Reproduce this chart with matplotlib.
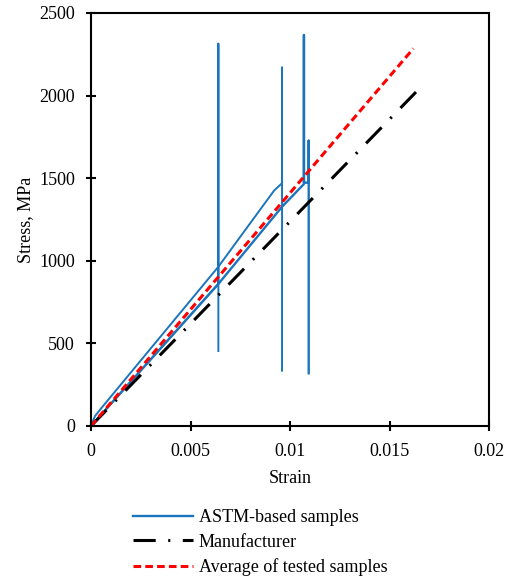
import matplotlib
matplotlib.use("Agg")
import matplotlib.pyplot as plt

plt.rcParams['font.family'] = ['Liberation Serif', 'DejaVu Serif']
plt.rcParams['lines.scale_dashes'] = False

# ---- data ----
sample1_strain = [0, 0.0002, 0.0006, 0.0064, 0.0092, 0.0096, 0.0096, 0.0096]
sample1_stress = [0, 60, 120, 964, 1425, 1470, 2170, 335]
sample2_strain = [0, 0.0064, 0.0096, 0.0107, 0.0107, 0.0107, 0.01094, 0.01094, 0.01094]
sample2_stress = [0, 860, 1327, 1465, 2367, 1473, 1473, 1727, 319]
sample3_strain = [0, 0.0064, 0.0064, 0.0064]
sample3_stress = [0, 860, 2314, 454]
manuf_strain = [0, 0.0164]
manuf_stress = [0, 2030]
avg_strain = [0, 0.0162]
avg_stress = [0, 2285]

xticks = [0, 0.005, 0.01, 0.015, 0.02]
xticklabels = ['0', '0.005', '0.01', '0.015', '0.02']
yticks = [0, 500, 1000, 1500, 2000, 2500]
yticklabels = ['0', '500', '1000', '1500', '2000', '2500']

blue = '#1B75BC'
fs = 13

fig = plt.figure(figsize=(5.14, 5.79), dpi=100)
ax = fig.add_axes([91/514, 1-426/579, 398/514, 413/579])

ax.plot(sample2_strain, sample2_stress, color=blue, lw=1.7, label='ASTM-based samples')
ax.plot(sample3_strain, sample3_stress, color=blue, lw=1.4)
ax.plot(sample1_strain, sample1_stress, color=blue, lw=1.4)
l_m, = ax.plot(manuf_strain, manuf_stress, color='black', lw=2.2, label='Manufacturer')
l_m.set_dashes([16, 9, 1.5, 9])
l_a, = ax.plot(avg_strain, avg_stress, color='#FF0000', lw=2.2, label='Average of tested samples')
l_a.set_dashes([5.5, 3])

ax.set_xlim(0, 0.02)
ax.set_ylim(0, 2500)
ax.set_xticks(xticks)
ax.set_xticklabels(xticklabels)
ax.set_yticks(yticks)
ax.set_yticklabels(yticklabels)
for s in ax.spines.values():
    s.set_linewidth(1.5)
ax.tick_params(direction='inout', length=7, width=1.5, labelsize=fs)
ax.tick_params(axis='y', pad=8)
ax.tick_params(axis='x', pad=9)
ax.set_xlabel('Strain', fontsize=fs, labelpad=7)
ax.set_ylabel('Stress, MPa', fontsize=fs, labelpad=4)

fig.legend(loc='upper left', bbox_to_anchor=(133/514, 1-509/579), frameon=False,
           fontsize=fs, handlelength=3.3, handletextpad=0.35, labelspacing=0.42,
           borderaxespad=0, borderpad=0)

fig.savefig('out.png', dpi=100)
